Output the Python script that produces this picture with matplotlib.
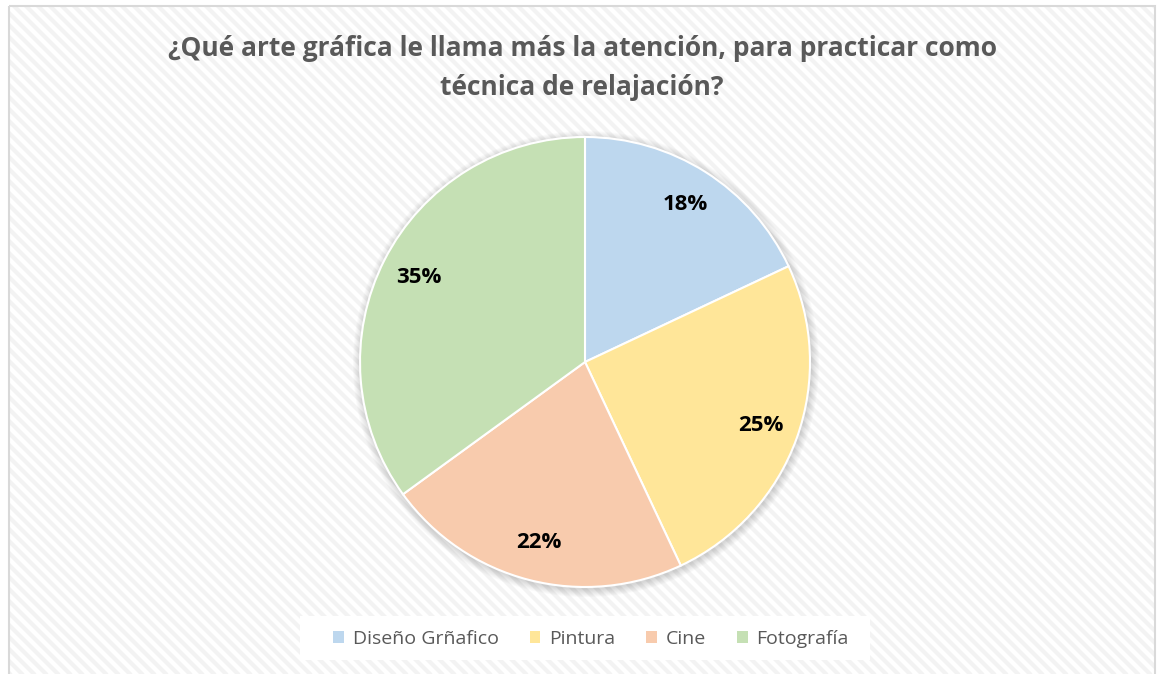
import matplotlib
matplotlib.use("Agg")
import matplotlib.pyplot as plt
from matplotlib.patches import Rectangle, Circle

# ── Data ─────────────────────────────────────────────────────────────────────
categories = ["Diseño Grñafico", "Pintura", "Cine", "Fotografía"]
values     = [18, 25, 22, 35]
colors     = ["#BDD7EE", "#FFE699", "#F8CBAD", "#C5E0B4"]
title      = "¿Qué arte gráfica le llama más la atención, para practicar como\ntécnica de relajación?"

plt.rcParams["font.family"] = ["Open Sans", "DejaVu Sans"]

W, H = 1164, 674
fig = plt.figure(figsize=(W / 100, H / 100), dpi=100)
fig.patch.set_facecolor("white")

# ── Striped background with border ──────────────────────────────────────────
bg = fig.add_axes([0, 0, 1, 1])
bg.set_xlim(0, W)
bg.set_ylim(H, 0)
bg.axis("off")
frame = Rectangle((9, 6), W - 18, H - 4, facecolor="white", edgecolor="none", zorder=0)
bg.add_patch(frame)
for x0 in range(-H, W + 12, 12):
    ln, = bg.plot([x0, x0 + H + 20], [-10, H + 10], color="#F3F3F3",
                  linewidth=3.0, solid_capstyle="butt", zorder=1)
    ln.set_clip_path(frame)
bg.add_patch(Rectangle((9, 6), W - 18, H - 4, facecolor="none",
                       edgecolor="#D9D9D9", linewidth=1.5, zorder=5))

# soft shadow behind the pie
cx, cy, r = 585, 362, 225
for i in range(8):
    bg.add_patch(Circle((cx + 1, cy + 2), r + 8 - i, facecolor="#000000",
                        alpha=0.018, edgecolor="none", zorder=3))

bg.text(W / 2, 68, title, ha="center", va="center", fontsize=19,
        fontweight="bold", color="#595959", linespacing=1.55, zorder=6)

# ── Pie ──────────────────────────────────────────────────────────────────────
ax = fig.add_axes([(cx - r) / W, 1 - (cy + r) / H, 2 * r / W, 2 * r / H])
wedges, texts, autotexts = ax.pie(
    values, colors=colors, startangle=90, counterclock=False,
    autopct="%1.0f%%", pctdistance=0.83,
    wedgeprops=dict(edgecolor="white", linewidth=1.5),
    textprops=dict(fontsize=16, fontweight="bold", color="black"),
)
ax.set_xlim(-1, 1)
ax.set_ylim(-1, 1)
ax.set_aspect("auto")

# ── Legend ───────────────────────────────────────────────────────────────────
bg.add_patch(Rectangle((300, 616), 570, 44, facecolor="white", edgecolor="none", zorder=4))
leg = fig.legend(wedges, categories, loc="center", bbox_to_anchor=(591 / W, 1 - 639 / H),
                 ncol=4, frameon=False, fontsize=14, handlelength=0.55, handleheight=0.55,
                 handletextpad=0.45, columnspacing=1.6, labelcolor="#595959")
for h in leg.legend_handles:
    h.set_edgecolor("none")

fig.savefig("out.png", dpi=100, facecolor="white")
